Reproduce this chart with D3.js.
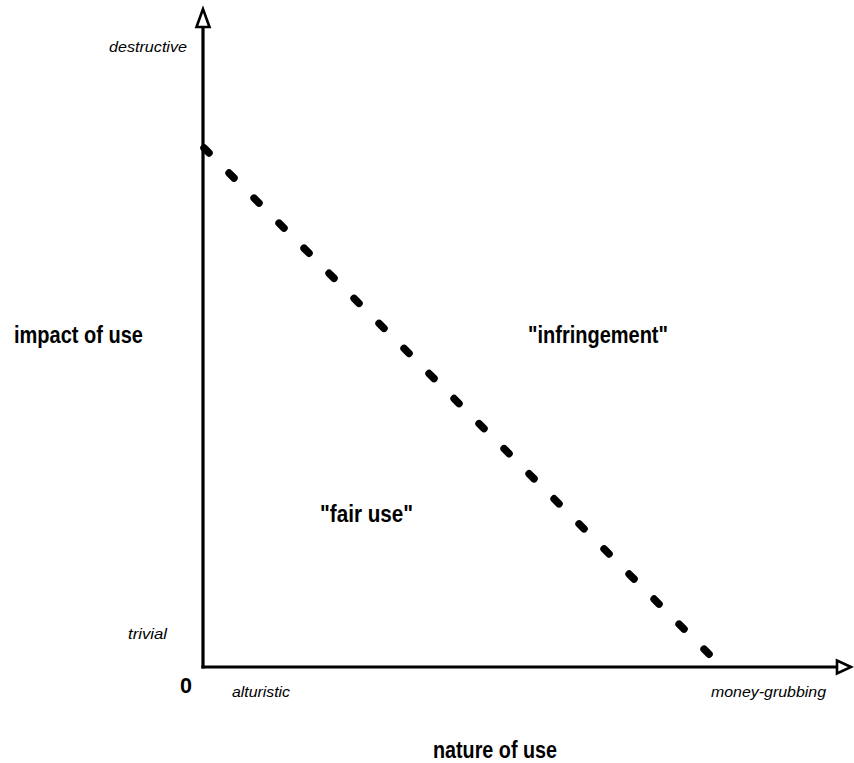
<!DOCTYPE html>
<html><head><meta charset="utf-8">
<script src="https://cdn.jsdelivr.net/npm/d3@7"></script>
<style>body{margin:0;background:#fff}svg{display:block}</style>
</head><body>
<script>
// data (domain units 0..100 on both axes)
const boundary = [{x: 0, y: 78.8}, {x: 78.3, y: 1.5}];
const yEndLabels = ["trivial", "destructive"];
const xEndLabels = ["alturistic", "money-grubbing"];
const regionLabels = ["\"fair use\"", "\"infringement\""];
const axisTitles = ["nature of use", "impact of use"];
const originLabel = "0";

const W = 854, H = 763;
const svg = d3.select("body").append("svg").attr("width", W).attr("height", H);
const x = d3.scaleLinear().domain([0, 100]).range([203, 853]);
const y = d3.scaleLinear().domain([0, 100]).range([667, 7]);

// axes
svg.append("line").attr("x1", x(0)).attr("y1", y(0) + 1.5).attr("x2", x(0)).attr("y2", y(100) + 21)
  .attr("stroke", "#000").attr("stroke-width", 3.2);
svg.append("line").attr("x1", x(0) - 1.6).attr("y1", y(0)).attr("x2", x(100) - 15).attr("y2", y(0))
  .attr("stroke", "#000").attr("stroke-width", 3.2);
// hollow arrowheads
const yt = y(100), xt = x(100);
svg.append("path").attr("d", `M${x(0)},${yt + 2} L${x(0) - 6.5},${yt + 20} L${x(0) + 6.5},${yt + 20} Z`)
  .attr("fill", "#fff").attr("stroke", "#000").attr("stroke-width", 2.6);
svg.append("path").attr("d", `M${xt - 2},${y(0)} L${xt - 16},${y(0) - 6.5} L${xt - 16},${y(0) + 6.5} Z`)
  .attr("fill", "#fff").attr("stroke", "#000").attr("stroke-width", 2.6);

// dashed boundary
const line = d3.line().x(d => x(d.x)).y(d => y(d.y));
svg.append("path").datum(boundary).attr("d", line)
  .attr("fill", "none").attr("stroke", "#000").attr("stroke-width", 7.5)
  .attr("stroke-linecap", "round").attr("stroke-dasharray", "7,28.4").attr("stroke-dashoffset", -1.5);

const font = "'Liberation Sans', Arial, Helvetica, sans-serif";
function txt(s, px, py, opt) {
  const t = svg.append("text").attr("x", px).attr("y", py).text(s)
    .attr("font-family", font).attr("font-size", opt.size)
    .attr("font-style", opt.italic ? "italic" : "normal")
    .attr("font-weight", opt.bold ? "bold" : "normal")
    .attr("text-anchor", opt.anchor || "start")
    .attr("fill", "#000");
  if (opt.len) t.attr("textLength", opt.len).attr("lengthAdjust", "spacingAndGlyphs");
  return t;
}
// y end labels
txt(yEndLabels[1], 109, 52, {size: 15, italic: true, len: 78});
txt(yEndLabels[0], 128, 639, {size: 15, italic: true, len: 39});
// x end labels
txt(xEndLabels[0], 232, 697, {size: 15, italic: true, len: 58});
txt(xEndLabels[1], 711, 697, {size: 15, italic: true, len: 115});
// origin
txt(originLabel, 180, 693, {size: 22, bold: true, len: 12});
// axis titles
txt(axisTitles[1], 14, 343, {size: 23, bold: true, len: 129});
txt(axisTitles[0], 433, 758, {size: 23, bold: true, len: 124});
// region labels
txt(regionLabels[1], 528, 343, {size: 23, bold: true, len: 140});
txt(regionLabels[0], 320, 522, {size: 23, bold: true, len: 93});
</script>
</body></html>
